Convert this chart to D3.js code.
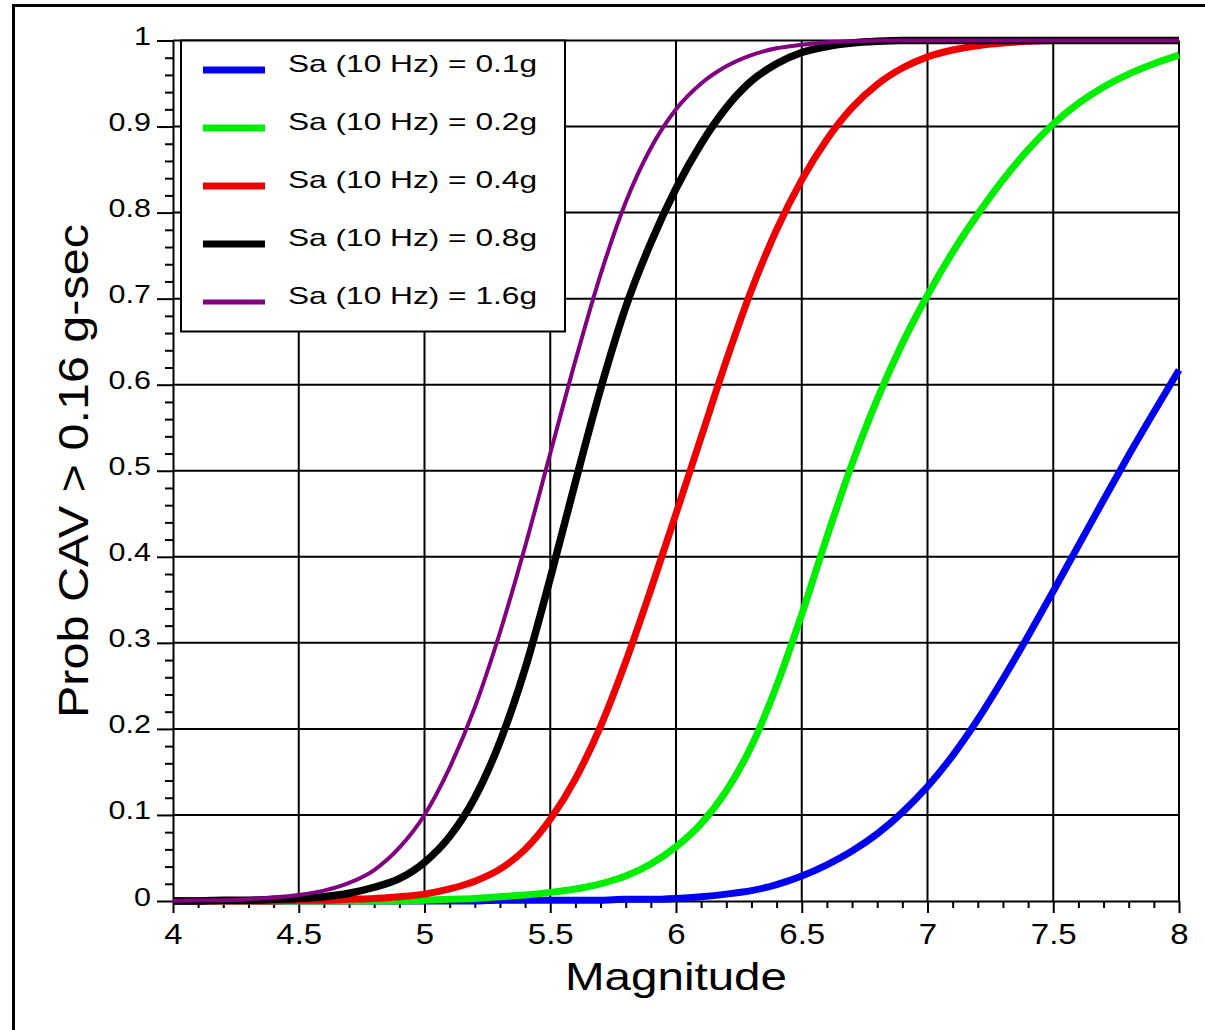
<!DOCTYPE html>
<html lang="en">
<head>
<meta charset="UTF-8">
<title>Prob CAV > 0.16 g-sec vs Magnitude</title>
<script src="https://d3js.org/d3.v7.min.js"></script>
<style>
    body { margin: 0; padding: 0; background: #fff; overflow: hidden; }
    svg text { font-family: "Liberation Sans", Arial, Helvetica, sans-serif; fill: #000; }
    .grid line { stroke: #000; stroke-width: 2; }
    .axis path, .axis line { stroke: #000; stroke-width: 2; }
</style>
</head>
<body>
<div id="chart"></div>
<script>
    // magnitude grid (x) and probability for each Sa level
    const magnitudes = [4.0, 4.1, 4.2, 4.3, 4.4, 4.5, 4.6, 4.7, 4.8, 4.9,
                        5.0, 5.1, 5.2, 5.3, 5.4, 5.5, 5.6, 5.7, 5.8, 5.9,
                        6.0, 6.1, 6.2, 6.3, 6.4, 6.5, 6.6, 6.7, 6.8, 6.9,
                        7.0, 7.1, 7.2, 7.3, 7.4, 7.5, 7.6, 7.7, 7.8, 7.9, 8.0];

    const sa01 = [0, 0, 0, 0, 0, 0, 0, 0, 0, 0,
                  0, 0, 0, 0.001, 0.001, 0.001, 0.001, 0.001, 0.002, 0.002,
                  0.003, 0.005, 0.008, 0.012, 0.019, 0.029, 0.042, 0.058, 0.078, 0.103,
                  0.133, 0.169, 0.211, 0.258, 0.308, 0.360, 0.413, 0.466, 0.518, 0.568, 0.617];
    const sa02 = [0, 0, 0, 0, 0, 0, 0, 0, 0, 0,
                  0.001, 0.002, 0.003, 0.005, 0.007, 0.010, 0.014, 0.020, 0.029, 0.043,
                  0.063, 0.090, 0.128, 0.180, 0.250, 0.333, 0.423, 0.508, 0.583, 0.648,
                  0.704, 0.754, 0.798, 0.838, 0.873, 0.903, 0.927, 0.946, 0.961, 0.973, 0.983];
    const sa04 = [0, 0, 0, 0, 0, 0.001, 0.001, 0.002, 0.003, 0.005,
                  0.008, 0.014, 0.023, 0.037, 0.060, 0.095, 0.142, 0.203, 0.278, 0.362,
                  0.450, 0.539, 0.628, 0.710, 0.780, 0.838, 0.885, 0.922, 0.949, 0.968,
                  0.981, 0.989, 0.994, 0.997, 0.999, 1, 1, 1, 1, 1, 1];
    const sa08 = [0, 0, 0.001, 0.001, 0.002, 0.003, 0.005, 0.009, 0.016, 0.026,
                  0.045, 0.075, 0.120, 0.185, 0.270, 0.375, 0.487, 0.595, 0.690, 0.765,
                  0.828, 0.880, 0.922, 0.953, 0.973, 0.986, 0.993, 0.997, 0.999, 1,
                  1, 1, 1, 1, 1, 1, 1, 1, 1, 1, 1];
    const sa16 = [0, 0.001, 0.001, 0.002, 0.004, 0.007, 0.012, 0.021, 0.036, 0.062,
                  0.100, 0.155, 0.225, 0.312, 0.412, 0.520, 0.628, 0.728, 0.812, 0.875,
                  0.920, 0.950, 0.970, 0.983, 0.991, 0.995, 0.998, 0.999, 1, 1,
                  1, 1, 1, 1, 1, 1, 1, 1, 1, 1, 1];

    const seriesNames = ["Sa (10 Hz) = 0.1g", "Sa (10 Hz) = 0.2g", "Sa (10 Hz) = 0.4g",
                         "Sa (10 Hz) = 0.8g", "Sa (10 Hz) = 1.6g"];
    const seriesValues = [sa01, sa02, sa04, sa08, sa16];
    const seriesColors = ["#0000f0", "#00ee00", "#ee0000", "#000000", "#800080"];
    const seriesWidths = [7, 7, 7, 7.5, 4];

    const xMajor = [4, 4.5, 5, 5.5, 6, 6.5, 7, 7.5, 8];
    const yMajor = [0, 0.1, 0.2, 0.3, 0.4, 0.5, 0.6, 0.7, 0.8, 0.9, 1];

    const W = 1205, H = 1030;
    const svg = d3.select("#chart").append("svg")
        .attr("width", W).attr("height", H);

    // outer frame (left and top edges visible)
    svg.append("path")
        .attr("d", `M13.5,${H + 5}V5.5H${W + 5}`)
        .attr("fill", "none").attr("stroke", "#000").attr("stroke-width", 3);

    const x = d3.scaleLinear().domain([4, 8]).range([173, 1179]);
    const y = d3.scaleLinear().domain([0, 1]).range([901, 40.5]);

    // stretch text horizontally, the source font is wider than Arial
    function stretch(sel, k) {
        sel.each(function () {
            const w = this.getComputedTextLength();
            this.setAttribute("textLength", w * k);
            this.setAttribute("lengthAdjust", "spacingAndGlyphs");
        });
    }

    // grid
    const grid = svg.append("g").attr("class", "grid");
    grid.selectAll(".vg").data(xMajor.slice(1))
        .enter().append("line")
        .attr("x1", d => x(d)).attr("x2", d => x(d))
        .attr("y1", y(0)).attr("y2", y(1));
    grid.selectAll(".hg").data(yMajor.slice(1))
        .enter().append("line")
        .attr("x1", x(4)).attr("x2", x(8))
        .attr("y1", d => y(d)).attr("y2", d => y(d));

    // minor ticks
    const xMinor = d3.range(40).map(i => 4 + i * 0.1).filter((d, i) => i % 5 !== 0);
    const yMinor = d3.range(50).map(i => i * 0.02).filter((d, i) => i % 5 !== 0);

    svg.append("g").attr("class", "axis")
        .attr("transform", `translate(0,${y(0)})`)
        .call(d3.axisBottom(x).tickValues(xMinor).tickSize(7).tickFormat(""))
        .select(".domain").remove();
    svg.append("g").attr("class", "axis")
        .attr("transform", `translate(${x(4)},0)`)
        .call(d3.axisLeft(y).tickValues(yMinor).tickSize(8).tickFormat(""))
        .select(".domain").remove();

    // major axes
    const xAxis = svg.append("g").attr("class", "axis")
        .attr("transform", `translate(0,${y(0)})`)
        .call(d3.axisBottom(x).tickValues(xMajor).tickSize(12).tickSizeOuter(0)
            .tickPadding(10).tickFormat(d3.format("")));
    xAxis.selectAll("text").attr("font-size", 30).attr("dy", "0.71em");
    stretch(xAxis.selectAll("text"), 1.1);

    const yAxis = svg.append("g").attr("class", "axis")
        .attr("transform", `translate(${x(4)},0)`)
        .call(d3.axisLeft(y).tickValues(yMajor).tickSize(16).tickSizeOuter(0)
            .tickPadding(6).tickFormat(d3.format("")));
    yAxis.selectAll("text").attr("font-size", 25).attr("dy", "0.16em");
    stretch(yAxis.selectAll("text"), 1.22);

    // curves
    const line = d3.line()
        .x((d, i) => x(magnitudes[i]))
        .y(d => y(d))
        .curve(d3.curveMonotoneX);

    svg.append("g").selectAll("path")
        .data(seriesValues)
        .enter().append("path")
        .attr("d", d => line(d))
        .attr("fill", "none")
        .attr("stroke", (d, i) => seriesColors[i])
        .attr("stroke-width", (d, i) => seriesWidths[i])
        .attr("stroke-linejoin", "round");

    // legend
    const legend = svg.append("g");
    legend.append("rect")
        .attr("x", 181).attr("y", 40.5)
        .attr("width", 384).attr("height", 291)
        .attr("fill", "#fff").attr("stroke", "#000").attr("stroke-width", 2);

    const rows = legend.selectAll(".row").data(seriesNames)
        .enter().append("g")
        .attr("transform", (d, i) => `translate(0,${70 + i * 58})`);
    rows.append("line")
        .attr("x1", 203).attr("x2", 265)
        .attr("stroke", (d, i) => seriesColors[i])
        .attr("stroke-width", (d, i) => i === 4 ? 5 : 7);
    rows.append("text")
        .attr("x", 288).attr("y", 2)
        .attr("font-size", 24)
        .attr("textLength", 249)
        .attr("lengthAdjust", "spacingAndGlyphs")
        .text(d => d);

    // axis titles
    svg.append("text")
        .attr("x", 676).attr("y", 990)
        .attr("text-anchor", "middle")
        .attr("font-size", 38)
        .attr("textLength", 222)
        .attr("lengthAdjust", "spacingAndGlyphs")
        .text("Magnitude");

    svg.append("text")
        .attr("transform", "translate(88,471) rotate(-90)")
        .attr("text-anchor", "middle")
        .attr("font-size", 42)
        .attr("textLength", 494)
        .attr("lengthAdjust", "spacingAndGlyphs")
        .text("Prob CAV > 0.16 g-sec");
</script>
</body>
</html>
